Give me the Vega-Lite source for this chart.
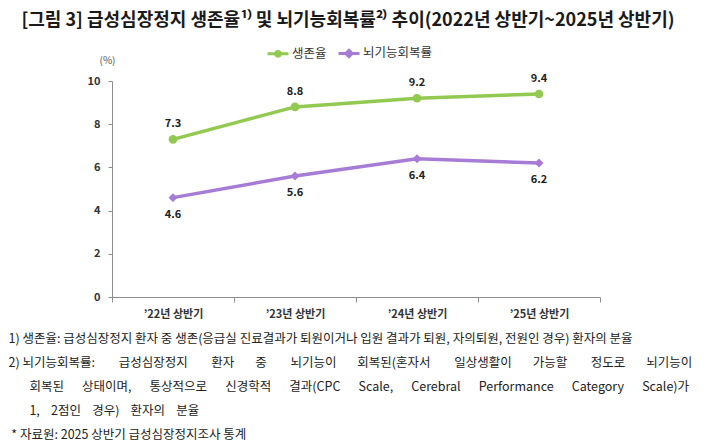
{
  "$schema": "https://vega.github.io/schema/vega-lite/v6.json",
  "width": 488,
  "height": 216,
  "autosize": {"type": "none"},
  "padding": {"left": 112, "top": 81, "right": 120, "bottom": 149},
  "background": "white",
  "config": {
    "font": "Noto Sans CJK KR",
    "view": {"stroke": null}
  },
  "title": {
    "text": "[그림 3] 급성심장정지 생존율¹⁾ 및 뇌기능회복률²⁾ 추이(2022년 상반기~2025년 상반기)",
    "font": "Noto Sans CJK KR",
    "fontSize": 18,
    "fontWeight": "bold",
    "color": "#1a1a1a",
    "anchor": "middle",
    "dx": -8,
    "offset": 11
  },
  "data": {
    "values": [
      {"period": "’22년 상반기", "series": "생존율", "value": 7.3},
      {"period": "’23년 상반기", "series": "생존율", "value": 8.8},
      {"period": "’24년 상반기", "series": "생존율", "value": 9.2},
      {"period": "’25년 상반기", "series": "생존율", "value": 9.4},
      {"period": "’22년 상반기", "series": "뇌기능회복률", "value": 4.6},
      {"period": "’23년 상반기", "series": "뇌기능회복률", "value": 5.6},
      {"period": "’24년 상반기", "series": "뇌기능회복률", "value": 6.4},
      {"period": "’25년 상반기", "series": "뇌기능회복률", "value": 6.2}
    ]
  },
  "encoding": {
    "x": {
      "field": "period",
      "type": "ordinal",
      "sort": null,
      "bandPosition": 0.5,
      "scale": {"type": "band", "paddingInner": 0, "paddingOuter": 0},
      "axis": {
        "labelAngle": 0,
        "labelFont": "Noto Sans CJK KR",
        "labelFontSize": 11,
        "labelFontWeight": "bold",
        "labelColor": "#333333",
        "labelPadding": 6,
        "tickBand": "extent",
        "tickSize": 5,
        "tickColor": "#8c8c8c",
        "domainColor": "#8c8c8c",
        "grid": false,
        "title": [
          "1) 생존율: 급성심장정지 환자 중 생존(응급실 진료결과가 퇴원이거나 입원 결과가 퇴원, 자의퇴원, 전원인 경우) 환자의 분율",
          "2) 뇌기능회복률:\u00a0\u3000\u00a0\u00a0\u00a0급성심장정지\u00a0\u3000\u00a0\u00a0\u00a0환자\u00a0\u3000\u00a0\u00a0중\u00a0\u3000\u00a0\u00a0\u00a0뇌기능이\u00a0\u3000\u00a0\u00a0회복된(혼자서\u00a0\u3000\u00a0\u00a0\u00a0일상생활이\u00a0\u3000\u00a0\u00a0가능할\u00a0\u3000\u00a0\u00a0\u00a0정도로\u00a0\u3000\u00a0\u00a0뇌기능이",
          "\u200b\u3000\u00a0\u00a0\u00a0회복된\u00a0\u3000\u00a0상태이며,\u00a0\u3000\u00a0통상적으로\u00a0\u3000\u00a0신경학적\u00a0\u3000\u00a0결과(CPC\u00a0\u3000\u00a0Scale,\u00a0\u3000\u00a0Cerebral\u00a0\u3000\u00a0Performance\u00a0\u3000\u00a0Category\u00a0\u3000\u00a0Scale)가",
          "\u200b\u3000\u00a0\u00a0\u00a01,\u00a0\u00a0\u00a0\u00a02점인\u00a0\u00a0\u00a0\u00a0경우)\u00a0\u00a0\u00a0\u00a0환자의\u00a0\u00a0\u00a0\u00a0분율",
          "\u200b\u00a0* 자료원: 2025 상반기 급성심장정지조사 통계"
        ],
        "titleFont": "Noto Sans CJK KR",
        "titleFontSize": 12.5,
        "titleFontWeight": "normal",
        "titleColor": "#222222",
        "titleAlign": "left",
        "titleAnchor": "start",
        "titleBaseline": "top",
        "titleLineHeight": 24,
        "titleX": -104,
        "titleY": 35
      }
    },
    "y": {
      "field": "value",
      "type": "quantitative",
      "scale": {"domain": [0, 10]},
      "axis": {
        "values": [0, 2, 4, 6, 8, 10],
        "labelFont": "Noto Sans CJK KR",
        "labelFontSize": 11,
        "labelFontWeight": "bold",
        "labelColor": "#333333",
        "labelPadding": 8,
        "tickSize": 4,
        "tickColor": "#8c8c8c",
        "domainColor": "#8c8c8c",
        "grid": false,
        "title": "(%)",
        "titleAngle": 0,
        "titleAlign": "center",
        "titleBaseline": "middle",
        "titleX": -5,
        "titleY": -21,
        "titleFont": "Noto Sans CJK KR",
        "titleFontSize": 10,
        "titleFontWeight": "normal",
        "titleColor": "#555555"
      }
    },
    "color": {
      "field": "series",
      "type": "nominal",
      "scale": {"domain": ["생존율", "뇌기능회복률"], "range": ["#92C950", "#A67CD6"]},
      "legend": {
        "orient": "none",
        "direction": "horizontal",
        "legendX": 154,
        "legendY": -40,
        "title": null,
        "labelFont": "Noto Sans CJK KR",
        "labelFontSize": 12.5,
        "labelColor": "#333333",
        "labelOffset": 2,
        "columnPadding": 5,
        "symbolSize": 441,
        "symbolStrokeWidth": 3,
        "encode": {
          "symbols": {
            "update": {
              "shape": {"signal": "datum.value === '생존율' ? 'M-1,0L1,0M-0.22,0A0.22,0.22,0,1,1,0.22,0A0.22,0.22,0,1,1,-0.22,0Z' : 'M-1,0L1,0M0,-0.3L0.3,0L0,0.3L-0.3,0Z'"},
              "fill": {"signal": "datum.value === '생존율' ? '#92C950' : '#A67CD6'"},
              "stroke": {"signal": "datum.value === '생존율' ? '#92C950' : '#A67CD6'"},
              "opacity": {"value": 1},
              "fillOpacity": {"value": 1}
            }
          }
        }
      }
    }
  },
  "layer": [
    {"mark": {"type": "line", "strokeWidth": 3.5}},
    {
      "transform": [{"filter": "datum.series === '생존율'"}],
      "mark": {"type": "point", "shape": "circle", "filled": true, "opacity": 1, "size": 75}
    },
    {
      "transform": [{"filter": "datum.series === '뇌기능회복률'"}],
      "mark": {"type": "point", "shape": "diamond", "filled": true, "opacity": 1, "size": 80}
    },
    {
      "transform": [{"filter": "datum.series === '생존율'"}],
      "mark": {"type": "text", "dy": -15, "fontSize": 11, "fontWeight": "bold", "font": "Noto Sans CJK KR"},
      "encoding": {"text": {"field": "value", "type": "quantitative", "format": ".1f"}, "color": {"value": "#222222"}}
    },
    {
      "transform": [{"filter": "datum.series === '뇌기능회복률'"}],
      "mark": {"type": "text", "dy": 17, "fontSize": 11, "fontWeight": "bold", "font": "Noto Sans CJK KR"},
      "encoding": {"text": {"field": "value", "type": "quantitative", "format": ".1f"}, "color": {"value": "#222222"}}
    }
  ]
}
